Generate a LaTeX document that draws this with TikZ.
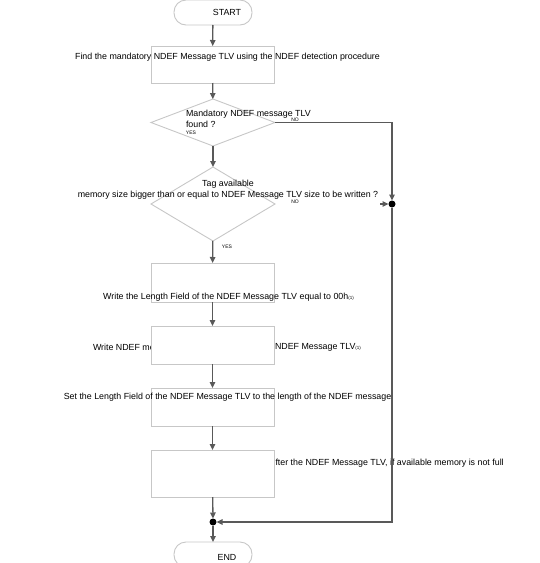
\documentclass[tikz,border=0pt]{standalone}
\usepackage{fontspec}
\setmainfont{Liberation Sans}
\usetikzlibrary{arrows.meta,shapes.geometric}
\begin{document}
\begin{tikzpicture}[x=1pt,y=-1pt,
  every node/.style={inner sep=0pt,outer sep=0pt},
  txt/.style={font=\fontsize{8.85}{10.5}\selectfont,text=black},
  tiny/.style={font=\fontsize{5}{5.5}\selectfont,text=black},
  boxst/.style={draw=black!22,line width=0.9pt,fill=white,minimum width=123pt},
  diast/.style={diamond,draw=black!22,line width=0.9pt,fill=white,aspect=1},
  termst/.style={draw=black!22,line width=0.9pt,fill=white,rounded corners=12pt,minimum width=78pt,minimum height=25pt},
  conn/.style={draw=black!65,line width=1.3pt,-{Triangle[length=6pt,width=5.5pt]}},
  dotst/.style={circle,fill=black,minimum size=7pt}
]
\useasboundingbox (0,0) rectangle (540,563);
% shapes
\node[termst] (start) at (213,12.5) {};
\node[boxst,minimum height=37pt] (b1) at (212.5,64.5) {};
\node[diast,minimum width=124pt,minimum height=47pt] (d1) at (213,122.5) {};
\node[diast,minimum width=124pt,minimum height=74pt] (d2) at (213,204) {};
\node[boxst,minimum height=39pt] (b2) at (212.5,282.5) {};
\node[txt,anchor=west] (t3a) at (93,347) {Write NDEF me};
\node[boxst,minimum height=38pt] (b3) at (212.5,345) {};
\node[boxst,minimum height=38pt] (b4) at (212.5,407) {};
\node[boxst,minimum height=47pt] (b5) at (212.5,473.5) {};
\node[termst] (end) at (213,554.5) {};
\node[dotst] (dot1) at (392,204) {};
\node[dotst] (dot2) at (213,522) {};
\coordinate (stub) at (380,204);
% texts
\node[txt] (tstart) at (227,12) {START};
\node[txt] (t1) at (227.5,57) {Find the mandatory NDEF Message TLV using the NDEF detection procedure};
\node[txt,align=left,anchor=west] (td1) at (186,119) {Mandatory NDEF message TLV\\found ?};
\node[txt,align=center] (td2) at (228,189.5) {Tag available\\memory size bigger than or equal to NDEF Message TLV size to be written ?};
\node[txt] (t2) at (228.5,297) {Write the Length Field of the NDEF Message TLV equal to 00h{\fontsize{4.5}{5}\selectfont(1)}};
\node[txt,anchor=west] (t3b) at (275,347) {NDEF Message TLV{\fontsize{4.5}{5}\selectfont(1)}};
\node[txt] (t4) at (227.5,397) {Set the Length Field of the NDEF Message TLV to the length of the NDEF message};
\node[txt,anchor=west] (t5) at (275.5,463) {fter the NDEF Message TLV, if available memory is not full};
\node[txt] (tend) at (227,557) {END};
\node[tiny] (no1) at (295,119.5) {NO};
\node[tiny] (yes1) at (191,133) {YES};
\node[tiny] (no2) at (295,201.5) {NO};
\node[tiny] (yes2) at (227,247) {YES};
% connectors
\draw[conn] (start) -- (b1);
\draw[conn] (b1) -- (d1);
\draw[conn] (d1) -- (d2);
\draw[conn] (d2) -- (b2);
\draw[conn] (b2) -- (b3);
\draw[conn] (b3) -- (b4);
\draw[conn] (b4) -- (b5);
\draw[conn] (b5) -- (dot2);
\draw[conn] (dot2) -- (end);
\draw[conn] (d1.east) -| (dot1);
\draw[conn] (stub) -- (dot1);
\draw[conn] (dot1) |- (dot2);
\end{tikzpicture}
\end{document}
